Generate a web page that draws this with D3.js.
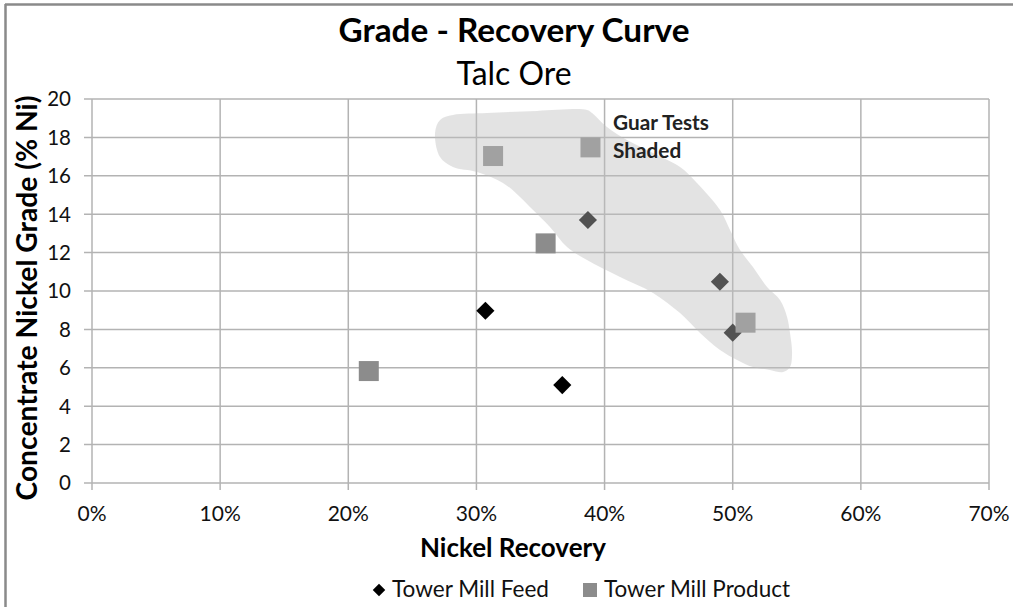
<!DOCTYPE html>
<html><head><meta charset="utf-8">
<script src="https://cdn.jsdelivr.net/npm/d3@7"></script>
<style>
html,body{margin:0;padding:0;background:#fff;}
svg{display:block;font-family:Lato,"Open Sans",sans-serif;}
</style></head>
<body>
<svg id="chart" width="1013" height="607"></svg>
<script>
// ---- data ----
const feedRecovery = [0.307, 0.367, 0.387, 0.490, 0.500];
const feedGrade    = [8.97, 5.1, 13.7, 10.48, 7.83];
const productRecovery = [0.313, 0.389, 0.354, 0.510, 0.216];
const productGrade    = [17.03, 17.48, 12.48, 8.35, 5.83];
const xTicks = [0, 0.1, 0.2, 0.3, 0.4, 0.5, 0.6, 0.7];
const yTicks = [0, 2, 4, 6, 8, 10, 12, 14, 16, 18, 20];
// shaded region (recovery, grade) outline
const shadeRecovery = [0.2677,0.2716,0.2817,0.3083,0.3473,0.3863,0.3902,0.4019,0.4175,0.4378,0.4589,0.4721,0.4901,0.4979,0.5057,0.5158,0.5268,0.5369,0.5424,0.5447,0.5463,0.5447,0.5393,0.5291,0.5158,0.5034,0.4901,0.4745,0.4589,0.4378,0.4121,0.3863,0.3707,0.3574,0.3442,0.3340,0.3207,0.3005,0.2817,0.2716];
const shadeGrade    = [18.23,18.91,19.17,19.27,19.38,19.43,19.27,18.54,17.86,17.19,16.46,15.63,14.22,13.18,12.14,11.25,10.21,9.53,8.65,7.81,6.77,6.04,5.78,5.89,6.04,6.41,6.93,7.81,8.85,9.90,10.73,11.61,12.29,13.33,14.22,14.90,15.63,16.20,16.46,16.98];

const svg = d3.select("#chart");
const W = 1013, H = 607;
const x = d3.scaleLinear().domain([0, 0.7]).range([92, 989]);
const y = d3.scaleLinear().domain([0, 20]).range([483, 99]);

function fit(sel, target) {
  const n = sel.node();
  const fs = parseFloat(sel.attr("font-size"));
  const len = n.getComputedTextLength();
  if (len > 0) sel.attr("font-size", (fs * target / len).toFixed(2));
  return sel;
}

// border (top and left visible)
svg.append("line").attr("x1", 5).attr("x2", W).attr("y1", 4.5).attr("y2", 4.5)
  .attr("stroke", "#8a8a8a").attr("stroke-width", 2.5);
svg.append("line").attr("x1", 5.5).attr("x2", 5.5).attr("y1", 4).attr("y2", H)
  .attr("stroke", "#8a8a8a").attr("stroke-width", 2.5);

const grid = svg.append("g");
grid.selectAll(".hg").data(yTicks).join("line")
  .attr("x1", 84).attr("x2", x(0.7)).attr("y1", d => y(d)).attr("y2", d => y(d))
  .attr("stroke", "#b3b3b3").attr("stroke-width", 1.5);
grid.selectAll(".vg").data(xTicks).join("line")
  .attr("x1", d => x(d)).attr("x2", d => x(d)).attr("y1", y(20)).attr("y2", 490)
  .attr("stroke", "#b3b3b3").attr("stroke-width", 1.5);

// tick labels
svg.append("g").selectAll("text").data(yTicks).join("text")
  .attr("x", 71).attr("y", d => y(d)).attr("dy", "0.36em")
  .attr("text-anchor", "end").attr("font-size", 20.5).attr("fill", "#111")
  .text(d => d);
svg.append("g").selectAll("text").data(xTicks).join("text")
  .attr("x", d => x(d)).attr("y", 521)
  .attr("text-anchor", "middle").attr("font-size", 21).attr("fill", "#111")
  .text(d => d3.format(".0%")(d));

// points
svg.append("g").selectAll("path").data(feedRecovery).join("path")
  .attr("transform", (d, i) => `translate(${x(d)},${y(feedGrade[i])})`)
  .attr("d", d3.symbol().type(d3.symbolDiamond2).size(210)())
  .attr("fill", "#000");
svg.append("g").selectAll("rect").data(productRecovery).join("rect")
  .attr("x", d => x(d) - 10).attr("y", (d, i) => y(productGrade[i]) - 10)
  .attr("width", 20).attr("height", 20).attr("fill", "#8c8c8c");

// shaded region on top, semi-transparent
const shadePts = shadeRecovery.map((r, i) => [x(r), y(shadeGrade[i])]);
svg.append("path")
  .attr("d", d3.line().curve(d3.curveCatmullRomClosed.alpha(0.5))(shadePts))
  .attr("fill", "#bdbdbd").attr("fill-opacity", 0.43);

// annotation
const a1 = svg.append("text").attr("x", 613).attr("y", 130).attr("font-size", 17)
  .attr("font-weight", "bold").attr("fill", "#222").text("Guar Tests");
fit(a1, 96);
svg.append("text").attr("x", 613).attr("y", 158).attr("font-size", a1.attr("font-size"))
  .attr("font-weight", "bold").attr("fill", "#222").text("Shaded");

// titles
fit(svg.append("text").attr("x", 514).attr("y", 42).attr("text-anchor", "middle")
  .attr("font-size", 28).attr("font-weight", "bold").attr("fill", "#000")
  .text("Grade - Recovery Curve"), 351);
fit(svg.append("text").attr("x", 514).attr("y", 85).attr("text-anchor", "middle")
  .attr("font-size", 28).attr("fill", "#000").text("Talc Ore"), 115);
fit(svg.append("text").attr("x", 513).attr("y", 557).attr("text-anchor", "middle")
  .attr("font-size", 21).attr("font-weight", "bold").attr("fill", "#000")
  .text("Nickel Recovery"), 186);
fit(svg.append("text").attr("transform", "translate(37,298) rotate(-90)")
  .attr("text-anchor", "middle").attr("font-size", 21).attr("font-weight", "bold")
  .attr("fill", "#000").text("Concentrate Nickel Grade  (% Ni)"), 405);

// legend
const lg = svg.append("g");
lg.append("path").attr("transform", "translate(379,590)")
  .attr("d", d3.symbol().type(d3.symbolDiamond2).size(100)()).attr("fill", "#000");
fit(lg.append("text").attr("x", 392).attr("y", 597).attr("font-size", 19).attr("fill", "#111")
  .text("Tower Mill Feed"), 157);
lg.append("rect").attr("x", 583).attr("y", 583).attr("width", 14).attr("height", 14).attr("fill", "#8c8c8c");
fit(lg.append("text").attr("x", 604).attr("y", 597).attr("font-size", 19).attr("fill", "#111")
  .text("Tower Mill Product"), 186);
</script>
</body></html>
